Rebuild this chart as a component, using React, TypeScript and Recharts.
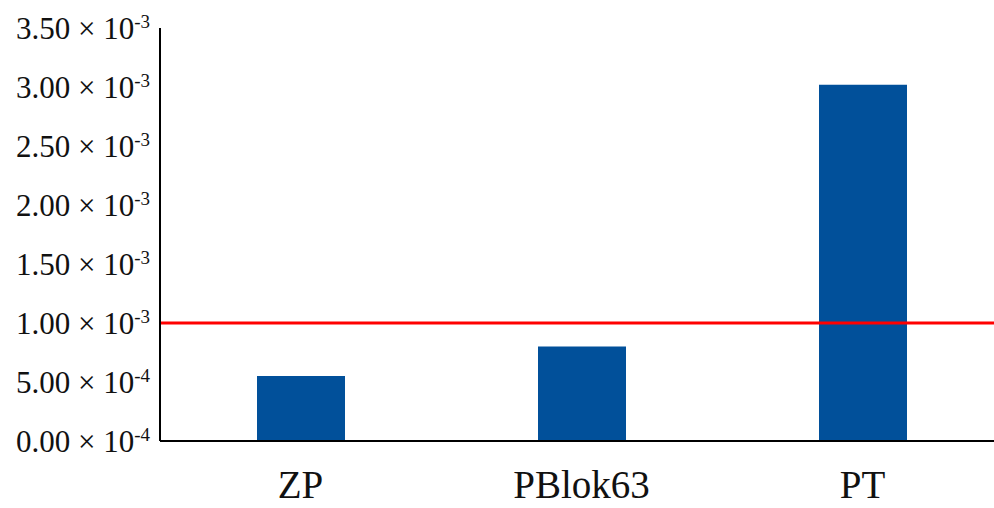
import { BarChart, Bar, XAxis, YAxis, ReferenceLine } from "recharts";

const categories = ["ZP", "PBlok63", "PT"];
const values = [0.00055, 0.0008, 0.00302];
const limitValue = 0.001;

const yTicks = [0, 0.0005, 0.001, 0.0015, 0.002, 0.0025, 0.003, 0.0035];
const yTickMantissas = ["0.00", "5.00", "1.00", "1.50", "2.00", "2.50", "3.00", "3.50"];
const yTickExponents = ["-4", "-4", "-3", "-3", "-3", "-3", "-3", "-3"];

const data = categories.map((name, i) => ({ name, value: values[i] }));

const FONT = '"Liberation Serif", "Times New Roman", Times, serif';

const YTick = (props: any) => {
  const { x, y, payload } = props;
  const i = yTicks.indexOf(payload.value);
  if (i < 0) return null;
  return (
    <text
      x={x - 10}
      y={y + 11}
      textAnchor="end"
      fill="#111"
      style={{ fontFamily: FONT, fontSize: 31 }}
    >
      <tspan>{`${yTickMantissas[i]} × 10`}</tspan>
      <tspan dy={-11} style={{ fontSize: 19 }}>
        {yTickExponents[i]}
      </tspan>
    </text>
  );
};

const XTick = (props: any) => {
  const { x, y, payload } = props;
  return (
    <text
      x={x}
      y={y + 57}
      textAnchor="middle"
      fill="#111"
      style={{ fontFamily: FONT, fontSize: 39 }}
    >
      {payload.value}
    </text>
  );
};

export default function App() {
  return (
    <div style={{ width: 994, height: 508, overflow: "hidden", background: "#fff", fontFamily: FONT }}>
      <style>{"body{margin:0}"}</style>
      <BarChart
        width={1010}
        height={508}
        data={data}
        margin={{ top: 28, right: 7, left: 0, bottom: 0 }}
      >
        <XAxis
          dataKey="name"
          height={67}
          tickLine={false}
          tickSize={0}
          tickMargin={0}
          axisLine={{ stroke: "#000", strokeWidth: 2 }}
          tick={<XTick />}
          interval={0}
        />
        <YAxis
          width={160}
          domain={[0, 0.0035]}
          ticks={yTicks}
          tickLine={false}
          tickSize={0}
          tickMargin={0}
          axisLine={{ stroke: "#000", strokeWidth: 2 }}
          tick={<YTick />}
          interval={0}
        />
        <Bar dataKey="value" fill="#01509a" barSize={88} isAnimationActive={false} />
        <ReferenceLine y={limitValue} stroke="#ff0000" strokeWidth={3} />
      </BarChart>
    </div>
  );
}
